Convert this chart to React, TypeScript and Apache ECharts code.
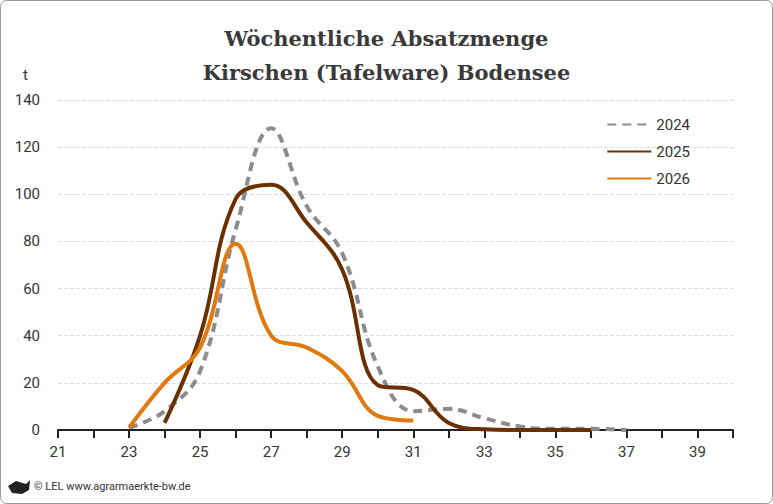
import React, { useEffect, useRef } from 'react';
import * as echarts from 'echarts';

const weeks = [23, 24, 25, 26, 27, 28, 29, 30, 31, 32, 33, 34, 35, 36, 37];
const values2024 = [1, 8, 25, 85, 128, 95, 75, 27, 8, 9, 5, 1.5, 0.5, 0.5, 0];
const values2025 = [null, 3, 40, 98, 104, 88, 68, 19, 17, 3, 0.3, 0, 0, 0, null];
const values2026 = [1, 20, 35, 79, 40, 35, 25, 6, 4, null, null, null, null, null, null];

const pairs = (vals: (number | null)[]) =>
  weeks.map((w, i) => [w, vals[i]]).filter((p) => p[1] !== null);

const App: React.FC = () => {
  const chartRef = useRef<HTMLDivElement | null>(null);

  useEffect(() => {
    document.body.style.margin = '0';
    if (!chartRef.current) return;
    const myChart = echarts.init(chartRef.current, undefined, { renderer: 'svg' });
    const font = 'Roboto, "Liberation Sans", sans-serif';
    myChart.setOption({
      animation: false,
      backgroundColor: '#fff',
      title: {
        text: 'Wöchentliche Absatzmenge\nKirschen (Tafelware) Bodensee',
        left: 'center',
        top: 16,
        textStyle: {
          fontFamily: '"DejaVu Serif", serif',
          fontSize: 21,
          fontWeight: 'bold',
          color: '#3a3a3a',
          lineHeight: 34,
        },
      },
      legend: {
        orient: 'vertical',
        right: 78,
        top: 112,
        itemGap: 12,
        itemWidth: 44,
        itemHeight: 4,
        itemStyle: { opacity: 0 },
        textStyle: { fontFamily: font, fontSize: 15, color: '#333' },
        data: ['2024', '2025', '2026'],
      },
      grid: { left: 58, right: 40, top: 100, bottom: 74 },
      xAxis: {
        type: 'value',
        min: 21,
        max: 40,
        interval: 1,
        axisLine: { lineStyle: { color: '#222', width: 2 } },
        axisTick: { show: true, inside: false, length: 8, lineStyle: { color: '#222', width: 2 } },
        splitLine: { show: false },
        axisLabel: {
          fontFamily: font,
          fontSize: 15,
          color: '#333',
          margin: 14,
          formatter: (v: number) => (v % 2 === 1 && v < 40 ? String(v) : ''),
        },
      },
      yAxis: {
        type: 'value',
        min: 0,
        max: 140,
        interval: 20,
        name: 't',
        nameLocation: 'end',
        nameGap: 18,
        nameTextStyle: { fontFamily: font, fontSize: 15, color: '#333', align: 'right', padding: [0, 30, 0, 0] },
        axisLine: { show: false },
        axisTick: { show: false },
        axisLabel: { fontFamily: font, fontSize: 15, color: '#333', margin: 18 },
        splitLine: { lineStyle: { color: '#ddd', type: 'dashed' } },
      },
      graphic: [
        {
          type: 'rect',
          shape: { x: 0.5, y: 0.5, width: 772, height: 503, r: 6 },
          style: { fill: 'none', stroke: '#999', lineWidth: 1 },
        },
        {
          type: 'text',
          left: 34,
          top: 481,
          style: { text: '© LEL www.agrarmaerkte-bw.de', font: '11px ' + font, fill: '#333' },
        },
        {
          type: 'polygon',
          shape: { points: [[8, 486], [16, 481], [26, 484], [30, 480], [29, 490], [22, 494], [12, 493]] },
          style: { fill: '#222' },
        },
      ],
      series: [
        {
          name: '2024',
          type: 'line',
          smooth: 0.4,
          symbol: 'none',
          data: pairs(values2024),
          lineStyle: { color: '#8c8c8c', width: 4, type: [9, 6] },
          itemStyle: { color: '#8c8c8c' },
        },
        {
          name: '2025',
          type: 'line',
          smooth: 0.4,
          symbol: 'none',
          data: pairs(values2025),
          lineStyle: { color: '#6b3000', width: 4 },
          itemStyle: { color: '#6b3000' },
        },
        {
          name: '2026',
          type: 'line',
          smooth: 0.4,
          symbol: 'none',
          data: pairs(values2026),
          lineStyle: { color: '#e07a10', width: 4 },
          itemStyle: { color: '#e07a10' },
        },
      ],
    });
    return () => {
      myChart.dispose();
    };
  }, []);

  return <div ref={chartRef} style={{ width: '773px', height: '504px' }} />;
};

export default App;
